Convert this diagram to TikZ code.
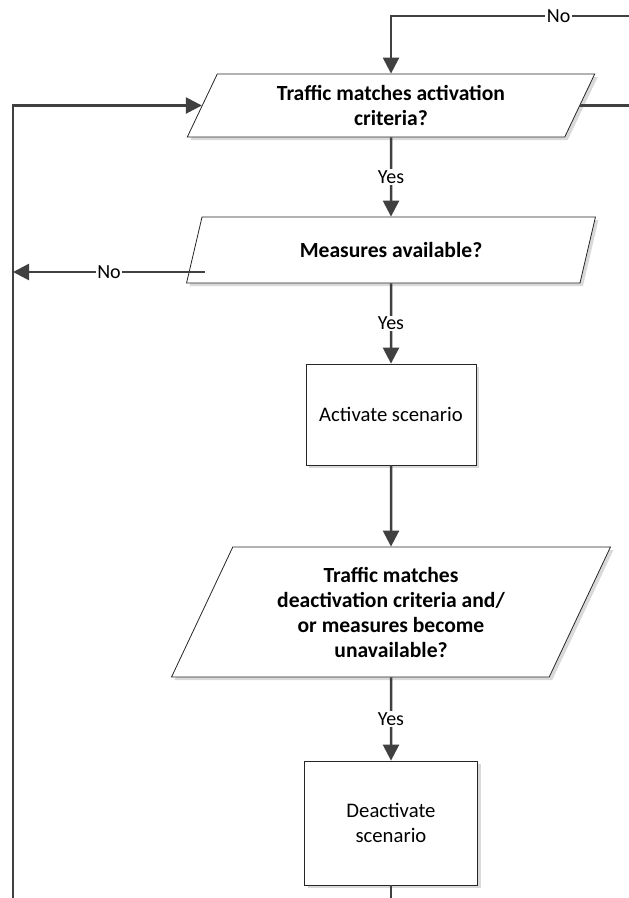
\documentclass[tikz,border=0pt]{standalone}
\usepackage{fontspec}
\setmainfont{Carlito}
\usetikzlibrary{shapes.geometric,arrows.meta,shadows}

\tikzset{
  shape box/.style={draw=black!85, line width=0.8pt, fill=white,
    drop shadow={shadow xshift=3pt, shadow yshift=-3pt, fill=black!15, opacity=1},
    align=center, inner sep=0pt, font=\fontsize{20.7}{25}\selectfont},
  decision/.style={shape box, trapezium, trapezium left angle=64,
    trapezium right angle=116, trapezium stretches=true,
    font=\fontsize{21.6}{25}\selectfont\bfseries},
  process/.style={shape box, rectangle},
  link/.style={draw=black!75, line width=2.5pt},
  flowarrow/.style={link, -{Triangle[length=16pt,width=16pt]}},
  lbl/.style={fill=white, inner sep=1.5pt, font=\fontsize{20}{24}\selectfont}
}

\begin{document}
\begin{tikzpicture}[x=1pt, y=-1pt]
  \useasboundingbox (0,0) rectangle (629,898);
  \clip (0,0) rectangle (629,898);

  % flow steps
  \node[decision, minimum width=409pt, minimum height=63pt] (p1) at (391,105.5)
    {Traffic matches activation\\criteria?};
  \node[decision, minimum width=409pt, minimum height=66pt] (p2) at (391,250)
    {Measures available?};
  \node[process, minimum width=170pt, minimum height=101pt] (b1) at (391,414.5)
    {Activate scenario};
  \node[decision, minimum width=440pt, minimum height=130pt] (p3) at (391,612)
    {Traffic matches\\deactivation criteria and/\\or measures become\\unavailable?};
  \node[process, minimum width=173pt, minimum height=124pt] (b2) at (391,823)
    {Deactivate\\scenario};

  % helper points for the return lines
  \coordinate (rail) at (13,915);
  \coordinate (topturn) at (645,16);
  \coordinate (p2out) at (205,272);

  % main sequence
  \draw[flowarrow] (p1.south) -- node[lbl]{Yes} (p2.north);
  \draw[flowarrow] (p2.south) -- node[lbl]{Yes} (b1.north);
  \draw[flowarrow] (b1.south) -- (p3.north);
  \draw[flowarrow] (p3.south) -- node[lbl]{Yes} (b2.north);

  % re-check loop on the right
  \draw[flowarrow] (p1.east) -| (topturn) -| node[lbl, pos=0.17]{No} (p1.north);

  % no measures: back to the left rail
  \draw[flowarrow] (p2out) -- node[lbl]{No} (p2out -| rail);

  % after deactivation: back to the start
  \draw[flowarrow] (b2.south) |- (rail) |- (p1.west);
\end{tikzpicture}
\end{document}
